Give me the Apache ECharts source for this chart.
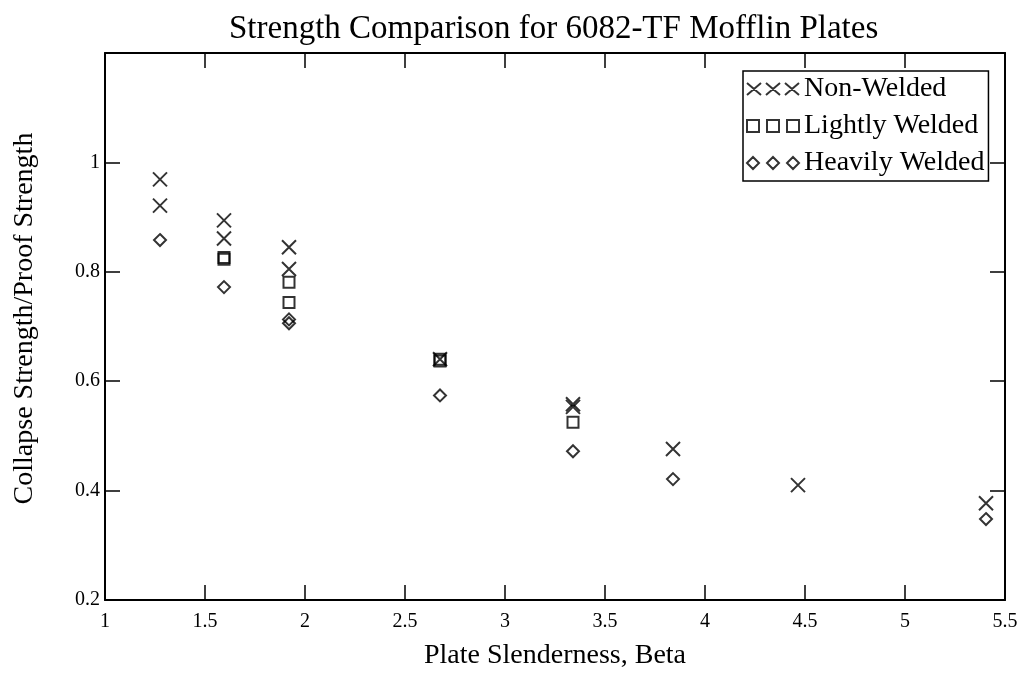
<!DOCTYPE html>
<html>
<head>
<meta charset="utf-8">
<script src="https://cdn.jsdelivr.net/npm/echarts@6/dist/echarts.min.js"></script>
<style>
  html, body { margin: 0; padding: 0; background: #fff; }
  #chart { width: 1025px; height: 693px; }
</style>
</head>
<body>
<div id="chart"></div>
<script>
// 数据放在顶部，按系列分开
var nonWeldedX = [1.275, 1.275, 1.595, 1.595, 1.92, 1.92, 2.675, 3.34, 3.34, 3.84, 4.465, 5.405];
var nonWeldedY = [0.969, 0.921, 0.894, 0.861, 0.845, 0.805, 0.640, 0.558, 0.553, 0.476, 0.410, 0.377];

var lightX = [1.595, 1.595, 1.92, 1.92, 2.675, 2.675, 3.34];
var lightY = [0.826, 0.823, 0.781, 0.744, 0.640, 0.637, 0.525];

var heavyX = [1.275, 1.595, 1.92, 1.92, 2.675, 3.34, 3.84, 5.405];
var heavyY = [0.858, 0.772, 0.713, 0.706, 0.574, 0.472, 0.421, 0.348];

var seriesNames = ["Non-Welded", "Lightly Welded", "Heavily Welded"];

var font = '"Liberation Serif", "Times New Roman", serif';

// 符号路径
var crossPath = "path://M0,0L10,10M10,0L0,10";
var crossLegend = "path://M0,0L14,12M14,0L0,12M19,0L33,12M33,0L19,12M38,0L52,12M52,0L38,12";
var rectLegend = "path://M0,0H12V12H0ZM20,0H32V12H20ZM40,0H52V12H40Z";
var diamondLegend = "path://M6,0L12,6L6,12L0,6ZM26,0L32,6L26,12L20,6ZM46,0L52,6L46,12L40,6Z";

function pairs(xs, ys) {
  return xs.map(function (x, i) { return [x, ys[i]]; });
}

var markStyle = { color: "rgba(0,0,0,0)", borderColor: "#000", borderWidth: 2 };

var chart = echarts.init(document.getElementById("chart"));

var option = {
  animation: false,
  backgroundColor: "#fff",
  title: {
    text: "Strength Comparison for 6082-TF Mofflin Plates",
    left: 224,
    top: 8,
    textStyle: { fontFamily: font, fontSize: 33, fontWeight: "normal", color: "#000" }
  },
  legend: {
    orient: "vertical",
    left: 743,
    top: 71,
    padding: [4, 4, 4, 3],
    itemWidth: 52,
    itemHeight: 12,
    itemGap: 9,
    borderColor: "#000",
    borderWidth: 1.5,
    backgroundColor: "#fff",
    textStyle: { fontFamily: font, fontSize: 28, color: "#000" },
    data: [
      { name: seriesNames[0], icon: crossLegend, itemStyle: markStyle },
      { name: seriesNames[1], icon: rectLegend, itemStyle: markStyle },
      { name: seriesNames[2], icon: diamondLegend, itemStyle: markStyle }
    ]
  },
  grid: { left: 105, right: 20, top: 53, bottom: 93 },
  xAxis: [
    {
      type: "value",
      min: 1,
      max: 5.5,
      interval: 0.5,
      name: "Plate Slenderness, Beta",
      nameLocation: "middle",
      nameGap: 42,
      nameTextStyle: { fontFamily: font, fontSize: 28, color: "#000" },
      axisLine: { lineStyle: { color: "#000", width: 2 } },
      axisTick: { inside: true, length: 15, lineStyle: { color: "#000", width: 1.5 } },
      axisLabel: { fontFamily: font, fontSize: 20, color: "#000", margin: 12 },
      splitLine: { show: false }
    },
    {
      type: "value",
      position: "top",
      min: 1,
      max: 5.5,
      interval: 0.5,
      axisLine: { lineStyle: { color: "#000", width: 2 } },
      axisTick: { inside: true, length: 15, lineStyle: { color: "#000", width: 1.5 } },
      axisLabel: { show: false },
      splitLine: { show: false }
    }
  ],
  yAxis: [
    {
      type: "value",
      min: 0.2,
      max: 1.2,
      interval: 0.2,
      name: "Collapse Strength/Proof Strength",
      nameLocation: "middle",
      nameGap: 66,
      nameTextStyle: { fontFamily: font, fontSize: 28, color: "#000", padding: [0, 0, 0, 16] },
      axisLine: { show: true, lineStyle: { color: "#000", width: 2 } },
      axisTick: { show: true, inside: true, length: 15, lineStyle: { color: "#000", width: 1.5 } },
      axisLabel: {
        fontFamily: font, fontSize: 20, color: "#000", margin: 5,
        formatter: function (v) { return v > 1.1 ? "" : String(+v.toFixed(1)); }
      },
      splitLine: { show: false }
    },
    {
      type: "value",
      position: "right",
      min: 0.2,
      max: 1.2,
      interval: 0.2,
      axisLine: { show: true, lineStyle: { color: "#000", width: 2 } },
      axisTick: { show: true, inside: true, length: 15, lineStyle: { color: "#000", width: 1.5 } },
      axisLabel: { show: false },
      splitLine: { show: false }
    }
  ],
  series: [
    {
      name: seriesNames[0],
      type: "scatter",
      symbol: crossPath,
      symbolSize: 14,
      itemStyle: markStyle,
      data: pairs(nonWeldedX, nonWeldedY)
    },
    {
      name: seriesNames[1],
      type: "scatter",
      symbol: "rect",
      symbolSize: 11,
      itemStyle: markStyle,
      data: pairs(lightX, lightY)
    },
    {
      name: seriesNames[2],
      type: "scatter",
      symbol: "diamond",
      symbolSize: 12,
      itemStyle: markStyle,
      data: pairs(heavyX, heavyY)
    }
  ]
};

option && chart.setOption(option);
</script>
</body>
</html>
